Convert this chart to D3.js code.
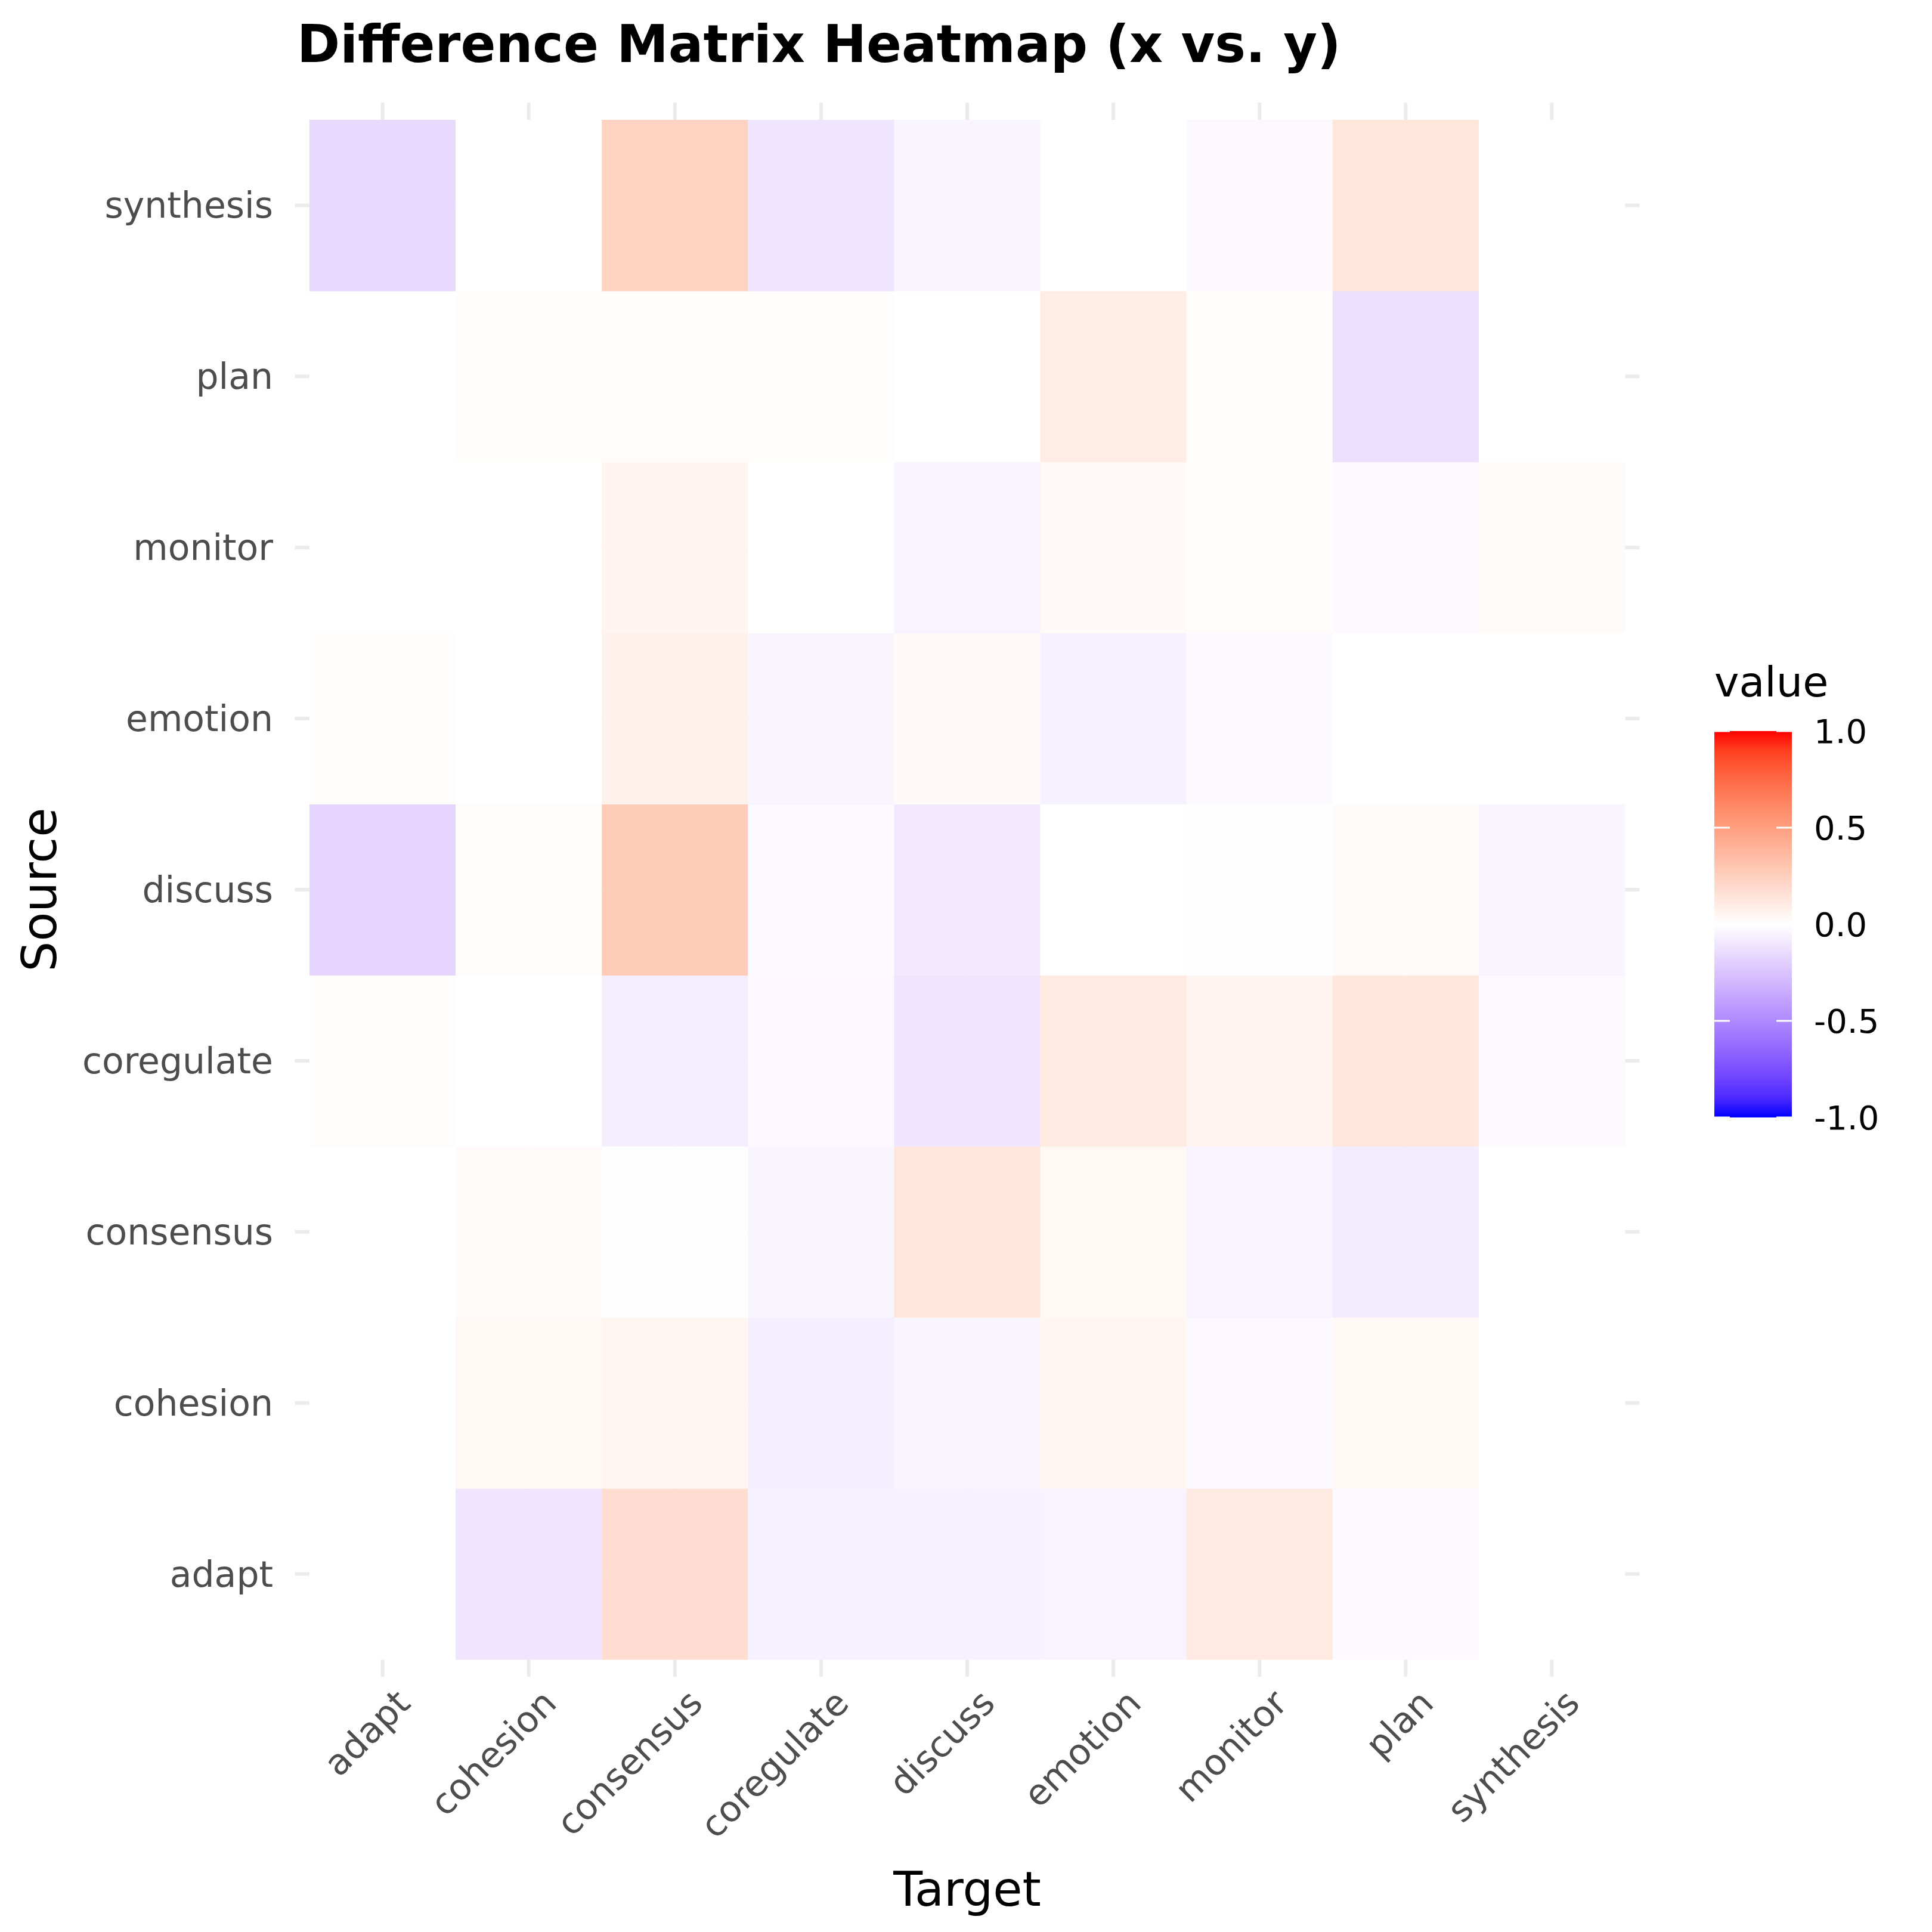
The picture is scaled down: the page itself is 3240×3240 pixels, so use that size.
<!DOCTYPE html>
<html>
<head>
<meta charset="utf-8">
<title>Difference Matrix Heatmap</title>
<script src="https://d3js.org/d3.v7.min.js"></script>
<style>body{margin:0;background:#fff}</style>
</head>
<body>
<script>
var targets = ["adapt","cohesion","consensus","coregulate","discuss","emotion","monitor","plan","synthesis"];
var sources = ["adapt","cohesion","consensus","coregulate","discuss","emotion","monitor","plan","synthesis"];
// rows keyed by source, columns follow targets
var diffValues = {
  synthesis:  [-0.16, 0.00, 0.24,-0.11,-0.04, 0.00,-0.03, 0.14, 0.00],
  plan:       [ 0.00, 0.01, 0.01, 0.01, 0.00, 0.10, 0.01,-0.13, 0.00],
  monitor:    [ 0.00, 0.00, 0.06, 0.00,-0.05, 0.03, 0.01,-0.02, 0.02],
  emotion:    [ 0.01, 0.00, 0.07,-0.04, 0.03,-0.06,-0.02, 0.00, 0.00],
  discuss:    [-0.17, 0.01, 0.27,-0.02,-0.09, 0.00,-0.01, 0.02,-0.04],
  coregulate: [ 0.01, 0.00,-0.07,-0.03,-0.11, 0.11, 0.06, 0.13,-0.02],
  consensus:  [ 0.00, 0.02,-0.01,-0.04, 0.14, 0.04,-0.05,-0.08, 0.00],
  cohesion:   [ 0.00, 0.04, 0.05,-0.07,-0.04, 0.05,-0.03, 0.04, 0.00],
  adapt:      [ 0.00,-0.11, 0.18,-0.06,-0.06,-0.05, 0.11,-0.02, 0.00]
};
var legendTicks = [1.0, 0.5, 0.0, -0.5, -1.0];

var W = 3240, H = 3240;
var svg = d3.select("body").append("svg").attr("width", W).attr("height", H)
  .style("font-family", "DejaVu Sans, sans-serif");

var cw = (2725 - 519) / 9, rh = (2783 - 201) / 9;
var x = d3.scaleBand().domain(targets).range([519, 2725]);
var y = d3.scaleBand().domain(sources.slice().reverse()).range([201, 2783]);

var color = function(v) {
  return v >= 0 ? d3.interpolateLab("#ffffff", "#ff0000")(v) : d3.interpolateLab("#ffffff", "#0000ff")(-v);
};

// grid lines
var g = svg.append("g");
targets.forEach(function(t) {
  var cx = x(t) + cw / 2;
  g.append("line").attr("x1", cx).attr("x2", cx).attr("y1", 201 - rh * 0.1).attr("y2", 2783 + rh * 0.1)
    .attr("stroke", "#ebebeb").attr("stroke-width", 6);
});
sources.forEach(function(s) {
  var cy = y(s) + rh / 2;
  g.append("line").attr("y1", cy).attr("y2", cy).attr("x1", 519 - cw * 0.1).attr("x2", 2725 + cw * 0.1)
    .attr("stroke", "#ebebeb").attr("stroke-width", 6);
});

var cells = [];
sources.forEach(function(s) {
  diffValues[s].forEach(function(v, i) { cells.push({s: s, t: targets[i], v: v}); });
});
svg.selectAll("rect.cell").data(cells).enter().append("rect")
  .attr("class", "cell")
  .attr("x", function(d) { return x(d.t); })
  .attr("y", function(d) { return y(d.s); })
  .attr("width", cw + 0.5).attr("height", rh + 0.5)
  .attr("fill", function(d) { return color(d.v); });

// y labels
sources.forEach(function(s) {
  svg.append("text").attr("x", 458).attr("y", y(s) + rh / 2).attr("dy", "0.35em")
    .attr("text-anchor", "end").attr("font-size", 60).attr("fill", "#4d4d4d").text(s);
});
// x labels rotated 45
targets.forEach(function(t) {
  var cx = x(t) + cw / 2;
  svg.append("text").attr("transform", "translate(" + (cx + 20) + ",2830) rotate(-45)")
    .attr("text-anchor", "end").attr("dy", "0.7em").attr("font-size", 60).attr("fill", "#4d4d4d").text(t);
});

svg.append("text").attr("x", 1622).attr("y", 3196).attr("text-anchor", "middle")
  .attr("font-size", 80).attr("fill", "#000").text("Target");
svg.append("text").attr("transform", "translate(94,1492) rotate(-90)").attr("text-anchor", "middle")
  .attr("font-size", 80).attr("fill", "#000").text("Source");
svg.append("text").attr("x", 498).attr("y", 104).attr("font-size", 87).attr("font-weight", "bold")
  .text("Difference Matrix Heatmap (x vs. y)");

// legend
var lx = 2875, ly0 = 1226, ly1 = 1874, lw = 130;
var defs = svg.append("defs");
var grad = defs.append("linearGradient").attr("id", "lg").attr("x1", 0).attr("y1", 1).attr("x2", 0).attr("y2", 0);
d3.range(0, 21).forEach(function(i) {
  var v = -1 + i * 0.1;
  grad.append("stop").attr("offset", (i / 20 * 100) + "%").attr("stop-color", color(v));
});
svg.append("rect").attr("x", lx).attr("y", ly0).attr("width", lw).attr("height", ly1 - ly0).attr("fill", "url(#lg)");
var ls = d3.scaleLinear().domain([-1, 1]).range([ly1, ly0]);
legendTicks.forEach(function(v) {
  svg.append("line").attr("x1", lx).attr("x2", lx + 26).attr("y1", ls(v)).attr("y2", ls(v)).attr("stroke", "#fff").attr("stroke-width", 3);
  svg.append("line").attr("x1", lx + lw - 26).attr("x2", lx + lw).attr("y1", ls(v)).attr("y2", ls(v)).attr("stroke", "#fff").attr("stroke-width", 3);
  svg.append("text").attr("x", 3042).attr("y", ls(v)).attr("dy", "0.35em").attr("font-size", 56)
    .text(v.toFixed(1));
});
svg.append("text").attr("x", 2875).attr("y", 1168).attr("font-size", 70).text("value");
</script>
</body>
</html>
